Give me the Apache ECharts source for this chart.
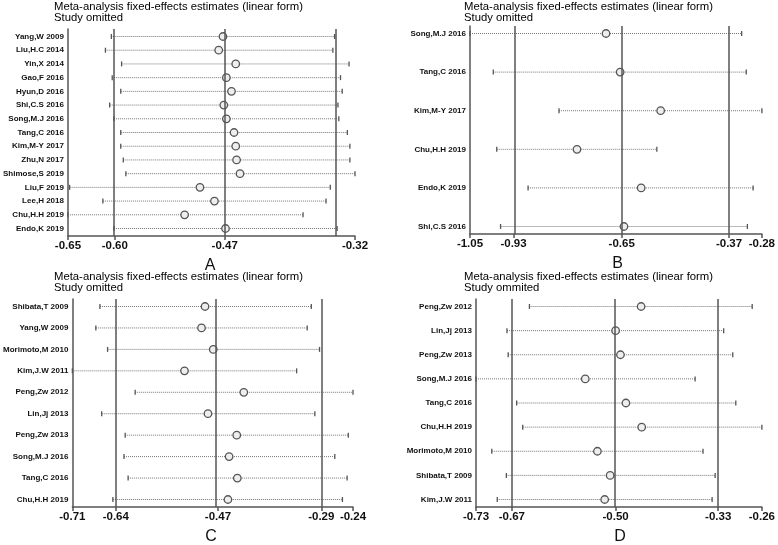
<!DOCTYPE html>
<html>
<head>
<meta charset="utf-8">
<script src="https://cdn.jsdelivr.net/npm/echarts@6/dist/echarts.min.js"></script>
<style>html,body{margin:0;padding:0;background:#fff}#main{width:778px;height:545px}</style>
</head>
<body>
<div id="main"></div>
<script>
// panel A
const namesA = ['Yang,W 2009','Liu,H.C 2014','Yin,X 2014','Gao,F 2016','Hyun,D 2016','Shi,C.S 2016','Song,M.J 2016','Tang,C 2016','Kim,M-Y 2017','Zhu,N 2017','Shimose,S 2019','Liu,F 2019','Lee,H 2018','Chu,H.H 2019','Endo,K 2019'];
const estA   = [-0.472,-0.477,-0.457,-0.468,-0.462,-0.471,-0.468,-0.459,-0.457,-0.456,-0.452,-0.499,-0.482,-0.517,-0.469];
const lowerA = [-0.603,-0.610,-0.591,-0.602,-0.592,-0.605,-0.600,-0.592,-0.592,-0.589,-0.586,-0.652,-0.613,-0.654,-0.600];
const upperA = [-0.341,-0.343,-0.324,-0.334,-0.332,-0.337,-0.336,-0.326,-0.323,-0.323,-0.317,-0.346,-0.351,-0.378,-0.338];
const linesA = [-0.599,-0.470,-0.340];
// panel B
const namesB = ['Song,M.J 2016','Tang,C 2016','Kim,M-Y 2017','Chu,H.H 2019','Endo,K 2019','Shi,C.S 2016'];
const estB   = [-0.691,-0.654,-0.548,-0.767,-0.599,-0.644];
const lowerB = [-1.047,-0.986,-0.814,-0.977,-0.895,-0.967];
const upperB = [-0.336,-0.324,-0.283,-0.558,-0.306,-0.321];
const linesB = [-0.933,-0.650,-0.369];
// panel C
const namesC = ['Shibata,T 2009','Yang,W 2009','Morimoto,M 2010','Kim,J.W 2011','Peng,Zw 2012','Lin,Jj 2013','Peng,Zw 2013','Song,M.J 2016','Tang,C 2016','Chu,H.H 2019'];
const estC   = [-0.488,-0.494,-0.474,-0.523,-0.422,-0.483,-0.434,-0.447,-0.433,-0.449];
const lowerC = [-0.667,-0.674,-0.654,-0.714,-0.607,-0.664,-0.624,-0.626,-0.619,-0.645];
const upperC = [-0.307,-0.314,-0.293,-0.332,-0.236,-0.301,-0.244,-0.267,-0.246,-0.254];
const linesC = [-0.640,-0.466,-0.290];
// panel D
const namesD = ['Peng,Zw 2012','Lin,Jj 2013','Peng,Zw 2013','Song,M.J 2016','Tang,C 2016','Chu,H.H 2019','Morimoto,M 2010','Shibata,T 2009','Kim,J.W 2011'];
const estD   = [-0.457,-0.499,-0.491,-0.549,-0.482,-0.456,-0.529,-0.508,-0.517];
const lowerD = [-0.641,-0.678,-0.676,-0.729,-0.662,-0.652,-0.703,-0.679,-0.694];
const upperD = [-0.274,-0.321,-0.306,-0.368,-0.301,-0.258,-0.355,-0.335,-0.340];
const linesD = [-0.670,-0.499,-0.330];

const titleLine1 = 'Meta-analysis fixed-effects estimates (linear form)';

const panels = [
  {names: namesA, est: estA, lo: lowerA, hi: upperA, lines: linesA, sub: 'Study omitted', letter: 'A',
   box: {left: 65, top: 29, width: 290, height: 207}, titleX: 54, titleY: 1},
  {names: namesB, est: estB, lo: lowerB, hi: upperB, lines: linesB, sub: 'Study omitted', letter: 'B',
   box: {left: 470, top: 26, width: 295, height: 208}, titleX: 464, titleY: 1},
  {names: namesC, est: estC, lo: lowerC, hi: upperC, lines: linesC, sub: 'Study omitted', letter: 'C',
   box: {left: 69, top: 299, width: 284, height: 208}, titleX: 54, titleY: 271},
  {names: namesD, est: estD, lo: lowerD, hi: upperD, lines: linesD, sub: 'Study ommited', letter: 'D',
   box: {left: 476, top: 299, width: 288, height: 208}, titleX: 464, titleY: 271}
];

const grey = '#555';
const font = "'Liberation Sans', Arial, sans-serif";
const option = {animation: false, grid: [], xAxis: [], yAxis: [], series: [], title: [], graphic: []};

panels.forEach((p, i) => {
  const n = p.names.length;
  const xmin = Math.min(...p.lo), xmax = Math.max(...p.hi);
  // rows sit ~7.5px in from the top and bottom of the plot frame
  const pad = 7.5 / ((p.box.height - 15) / (n - 1));
  const ticks = [xmin].concat(p.lines, [xmax]);
  option.grid.push(Object.assign({containLabel: false}, p.box));
  option.xAxis.push({
    type: 'value', gridIndex: i, min: xmin, max: xmax,
    splitLine: {show: false},
    axisLine: {onZero: false, lineStyle: {color: grey, width: 1.5}},
    axisTick: {customValues: ticks, length: 4, lineStyle: {color: grey, width: 1.5}},
    axisLabel: {customValues: ticks, showMinLabel: true, showMaxLabel: true, margin: 4,
      formatter: v => v.toFixed(2), fontSize: 11.5, fontWeight: 'bold', color: '#111', fontFamily: font}
  });
  option.yAxis.push({
    type: 'value', gridIndex: i, inverse: true, min: -pad, max: n - 1 + pad,
    splitLine: {show: false}, axisTick: {show: false},
    axisLine: {show: true, onZero: false, lineStyle: {color: grey, width: 1.5}},
    axisLabel: {customValues: p.names.map((_, k) => k), showMinLabel: true, showMaxLabel: true, margin: 4,
      formatter: v => p.names[Math.round(v)], fontSize: 8, fontWeight: 'bold', color: '#111', fontFamily: font}
  });
  option.series.push({
    type: 'custom', xAxisIndex: i, yAxisIndex: i, z: 2,
    data: p.names.map((_, k) => [p.lo[k], p.hi[k], k]),
    encode: {x: [0, 1], y: 2},
    renderItem: (params, api) => {
      const a = api.coord([api.value(0), api.value(2)]);
      const b = api.coord([api.value(1), api.value(2)]);
      const cap = 2.5;
      return {type: 'group', children: [
        {type: 'line', shape: {x1: a[0], y1: a[1], x2: b[0], y2: b[1]},
         style: {stroke: '#777', lineWidth: 1, lineDash: [1, 1]}},
        {type: 'line', shape: {x1: a[0], y1: a[1] - cap, x2: a[0], y2: a[1] + cap},
         style: {stroke: grey, lineWidth: 1.3}},
        {type: 'line', shape: {x1: b[0], y1: b[1] - cap, x2: b[0], y2: b[1] + cap},
         style: {stroke: grey, lineWidth: 1.3}}
      ]};
    },
    markLine: {
      silent: true, symbol: 'none', label: {show: false},
      lineStyle: {type: 'solid', color: grey, width: 1.5},
      data: p.lines.map(v => ({xAxis: v}))
    }
  });
  option.series.push({
    type: 'scatter', xAxisIndex: i, yAxisIndex: i, z: 3,
    data: p.est.map((v, k) => [v, k]),
    symbol: 'circle', symbolSize: 7.5,
    itemStyle: {color: '#eeeeee', borderColor: grey, borderWidth: 1.3, opacity: 1}
  });
  option.title.push({
    text: titleLine1 + '\n' + p.sub, left: p.titleX, top: p.titleY, padding: 0,
    textStyle: {fontSize: 11.3, fontWeight: 'normal', color: '#000', lineHeight: 11, fontFamily: font}
  });
  option.graphic.push({
    type: 'text', x: p.box.left + p.box.width / 2, y: p.box.top + p.box.height + 30,
    style: {text: p.letter, fontSize: 16, fill: '#111', align: 'center', verticalAlign: 'middle', fontFamily: font}
  });
});

const myChart = echarts.init(document.getElementById('main'));
myChart.setOption(option);
</script>
</body>
</html>
